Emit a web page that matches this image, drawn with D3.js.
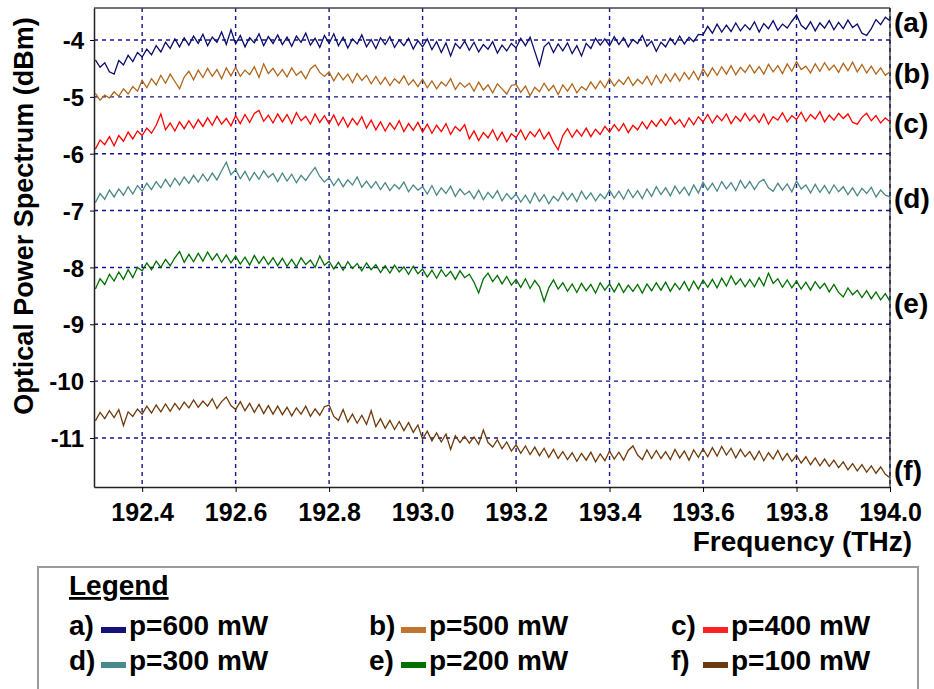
<!DOCTYPE html>
<html>
<head>
<meta charset="utf-8">
<script src="https://cdn.jsdelivr.net/npm/d3@7"></script>
<style>
  body { margin: 0; background: #fff; }
  svg { display: block; font-family: Arial, "Liberation Sans", Helvetica, sans-serif; font-weight: bold; }
</style>
</head>
<body>
<svg id="chart" width="934" height="689"></svg>
<script>
'use strict';

// sample grid of the spectrum (THz), 0.01 THz step
var freqs = d3.range(171).map(function (i) { return 192.30 + i * 0.01; });

var seriesA = [
  -4.35,-4.48,-4.40,-4.56,-4.60,-4.36,-4.44,-4.27,-4.38,-4.22,
  -4.30,-4.16,-4.26,-4.10,-4.21,-4.04,-4.15,-3.98,-4.12,-3.96,
  -4.09,-3.93,-4.06,-3.90,-4.10,-3.95,-4.04,-3.86,-4.08,-3.82,
  -4.07,-3.92,-4.12,-3.96,-4.05,-3.89,-4.10,-3.94,-4.06,-3.91,
  -4.08,-3.95,-4.11,-3.93,-4.04,-3.88,-4.09,-3.97,-4.13,-3.92,
  -4.06,-3.89,-4.10,-3.95,-4.14,-3.98,-4.07,-3.91,-4.12,-3.99,
  -4.15,-3.96,-4.08,-3.94,-4.13,-4.00,-4.10,-3.97,-4.16,-4.01,
  -4.12,-3.98,-4.17,-4.03,-4.22,-4.05,-4.28,-4.06,-4.15,-4.02,
  -4.18,-4.04,-4.21,-4.08,-4.16,-4.03,-4.23,-4.09,-4.19,-4.06,
  -4.14,-3.97,-4.10,-3.95,-4.20,-4.45,-4.12,-4.04,-4.22,-4.07,
  -4.19,-4.05,-4.24,-4.10,-4.28,-4.06,-4.15,-3.97,-4.09,-3.98,
  -4.10,-3.94,-4.08,-3.96,-4.12,-3.99,-4.06,-3.92,-4.11,-4.02,
  -4.20,-4.04,-4.12,-3.97,-4.08,-3.93,-4.07,-3.95,-4.03,-3.90,
  -3.91,-3.76,-3.88,-3.72,-3.86,-3.74,-3.85,-3.70,-3.84,-3.73,
  -3.82,-3.68,-3.86,-3.71,-3.80,-3.66,-3.83,-3.72,-3.79,-3.67,
  -3.56,-3.74,-3.81,-3.68,-3.84,-3.70,-3.79,-3.66,-3.82,-3.69,
  -3.80,-3.65,-3.78,-3.72,-3.88,-3.92,-3.80,-3.64,-3.73,-3.60,
  -3.66
];

var seriesB = [
  -4.94,-5.06,-4.97,-5.02,-4.91,-4.99,-4.86,-4.95,-4.82,-4.90,
  -4.71,-4.84,-4.68,-4.79,-4.62,-4.76,-4.60,-4.73,-4.86,-4.65,
  -4.55,-4.70,-4.53,-4.66,-4.50,-4.64,-4.52,-4.68,-4.49,-4.63,
  -4.48,-4.64,-4.53,-4.61,-4.47,-4.66,-4.42,-4.59,-4.50,-4.63,
  -4.52,-4.65,-4.49,-4.62,-4.55,-4.68,-4.51,-4.44,-4.57,-4.64,
  -4.56,-4.72,-4.58,-4.70,-4.60,-4.75,-4.59,-4.71,-4.62,-4.77,
  -4.64,-4.78,-4.66,-4.80,-4.68,-4.76,-4.63,-4.79,-4.70,-4.82,
  -4.69,-4.84,-4.72,-4.86,-4.74,-4.81,-4.68,-4.87,-4.75,-4.83,
  -4.76,-4.90,-4.74,-4.88,-4.79,-4.93,-4.77,-4.86,-4.95,-4.80,
  -4.78,-4.92,-4.81,-4.98,-4.83,-4.91,-4.76,-4.89,-4.80,-4.96,
  -4.79,-4.90,-4.77,-4.93,-4.82,-4.88,-4.74,-4.86,-4.72,-4.84,
  -4.68,-4.81,-4.70,-4.78,-4.65,-4.80,-4.69,-4.77,-4.64,-4.79,
  -4.62,-4.76,-4.60,-4.73,-4.59,-4.72,-4.57,-4.69,-4.55,-4.70,
  -4.51,-4.64,-4.49,-4.62,-4.47,-4.60,-4.45,-4.61,-4.48,-4.57,
  -4.44,-4.58,-4.47,-4.60,-4.43,-4.56,-4.45,-4.59,-4.42,-4.55,
  -4.38,-4.52,-4.46,-4.58,-4.42,-4.55,-4.40,-4.53,-4.44,-4.57,
  -4.41,-4.54,-4.39,-4.56,-4.43,-4.58,-4.46,-4.60,-4.49,-4.62,
  -4.56
];

var seriesC = [
  -5.92,-5.76,-5.84,-5.70,-5.86,-5.68,-5.78,-5.62,-5.74,-5.60,
  -5.68,-5.55,-5.64,-5.50,-5.30,-5.58,-5.46,-5.60,-5.44,-5.56,
  -5.42,-5.55,-5.40,-5.52,-5.37,-5.50,-5.34,-5.48,-5.38,-5.51,
  -5.33,-5.47,-5.31,-5.45,-5.29,-5.24,-5.43,-5.32,-5.46,-5.30,
  -5.44,-5.31,-5.47,-5.28,-5.42,-5.34,-5.48,-5.30,-5.45,-5.33,
  -5.47,-5.32,-5.50,-5.36,-5.53,-5.38,-5.49,-5.35,-5.55,-5.41,
  -5.58,-5.44,-5.60,-5.46,-5.57,-5.42,-5.61,-5.47,-5.59,-5.45,
  -5.62,-5.48,-5.64,-5.50,-5.61,-5.47,-5.66,-5.52,-5.60,-5.49,
  -5.74,-5.60,-5.77,-5.63,-5.72,-5.58,-5.76,-5.62,-5.79,-5.65,
  -5.72,-5.58,-5.75,-5.61,-5.70,-5.57,-5.74,-5.62,-5.80,-5.93,
  -5.68,-5.56,-5.71,-5.58,-5.69,-5.55,-5.70,-5.57,-5.66,-5.52,
  -5.62,-5.49,-5.60,-5.47,-5.63,-5.50,-5.58,-5.44,-5.56,-5.42,
  -5.52,-5.39,-5.50,-5.36,-5.48,-5.40,-5.53,-5.37,-5.49,-5.35,
  -5.44,-5.31,-5.46,-5.33,-5.42,-5.30,-5.47,-5.34,-5.43,-5.29,
  -5.42,-5.32,-5.45,-5.30,-5.48,-5.35,-5.41,-5.28,-5.44,-5.33,
  -5.40,-5.27,-5.43,-5.31,-5.39,-5.26,-5.44,-5.32,-5.41,-5.29,
  -5.38,-5.30,-5.45,-5.48,-5.36,-5.29,-5.42,-5.33,-5.46,-5.37,
  -5.44
];

var seriesD = [
  -6.86,-6.70,-6.80,-6.64,-6.76,-6.62,-6.73,-6.58,-6.71,-6.56,
  -6.66,-6.52,-6.63,-6.49,-6.60,-6.45,-6.58,-6.43,-6.55,-6.41,
  -6.52,-6.38,-6.50,-6.36,-6.48,-6.34,-6.46,-6.30,-6.15,-6.37,
  -6.28,-6.44,-6.31,-6.47,-6.33,-6.45,-6.30,-6.42,-6.35,-6.49,
  -6.34,-6.48,-6.36,-6.51,-6.38,-6.47,-6.35,-6.24,-6.40,-6.50,
  -6.42,-6.56,-6.44,-6.58,-6.46,-6.55,-6.41,-6.59,-6.48,-6.60,
  -6.49,-6.63,-6.51,-6.65,-6.54,-6.62,-6.50,-6.67,-6.55,-6.64,
  -6.58,-6.71,-6.56,-6.73,-6.60,-6.70,-6.57,-6.75,-6.62,-6.72,
  -6.66,-6.79,-6.64,-6.81,-6.68,-6.78,-6.65,-6.83,-6.70,-6.80,
  -6.71,-6.85,-6.73,-6.87,-6.69,-6.84,-6.72,-6.88,-6.75,-6.83,
  -6.68,-6.81,-6.70,-6.84,-6.66,-6.80,-6.69,-6.83,-6.71,-6.79,
  -6.64,-6.78,-6.66,-6.80,-6.63,-6.77,-6.65,-6.79,-6.62,-6.75,
  -6.58,-6.72,-6.60,-6.74,-6.57,-6.70,-6.59,-6.73,-6.55,-6.69,
  -6.50,-6.64,-6.52,-6.66,-6.49,-6.62,-6.51,-6.65,-6.47,-6.61,
  -6.49,-6.63,-6.50,-6.45,-6.60,-6.66,-6.52,-6.64,-6.53,-6.67,
  -6.48,-6.62,-6.55,-6.69,-6.54,-6.68,-6.56,-6.70,-6.55,-6.67,
  -6.58,-6.72,-6.60,-6.74,-6.61,-6.70,-6.59,-6.76,-6.64,-6.73,
  -6.76
];

var seriesE = [
  -8.38,-8.20,-8.30,-8.12,-8.24,-8.08,-8.21,-8.04,-8.18,-8.00,
  -8.06,-7.92,-8.04,-7.89,-8.00,-7.86,-7.97,-7.83,-7.72,-7.91,
  -7.77,-7.90,-7.75,-7.89,-7.73,-7.87,-7.76,-7.91,-7.78,-7.92,
  -7.80,-7.94,-7.82,-7.96,-7.79,-7.93,-7.81,-7.95,-7.83,-7.97,
  -7.84,-7.98,-7.86,-7.99,-7.83,-7.95,-7.87,-8.00,-7.80,-7.96,
  -7.89,-8.03,-7.91,-8.05,-7.90,-8.02,-7.93,-8.06,-7.92,-8.04,
  -7.95,-8.09,-7.97,-8.10,-7.96,-8.08,-7.99,-8.12,-7.98,-8.11,
  -8.03,-8.17,-8.05,-8.19,-8.04,-8.16,-8.07,-8.21,-8.06,-8.18,
  -8.12,-8.26,-8.45,-8.20,-8.10,-8.25,-8.14,-8.29,-8.16,-8.31,
  -8.21,-8.35,-8.20,-8.37,-8.23,-8.34,-8.60,-8.36,-8.22,-8.38,
  -8.27,-8.42,-8.29,-8.44,-8.28,-8.41,-8.30,-8.45,-8.27,-8.40,
  -8.29,-8.43,-8.28,-8.44,-8.31,-8.42,-8.30,-8.45,-8.29,-8.41,
  -8.27,-8.40,-8.26,-8.42,-8.28,-8.39,-8.25,-8.41,-8.24,-8.38,
  -8.22,-8.35,-8.21,-8.36,-8.19,-8.33,-8.15,-8.30,-8.20,-8.34,
  -8.21,-8.34,-8.18,-8.32,-8.10,-8.28,-8.20,-8.35,-8.22,-8.36,
  -8.24,-8.38,-8.26,-8.40,-8.25,-8.37,-8.28,-8.43,-8.30,-8.44,
  -8.52,-8.36,-8.48,-8.40,-8.53,-8.41,-8.55,-8.43,-8.57,-8.46,
  -8.60
];

var seriesF = [
  -10.70,-10.55,-10.66,-10.52,-10.64,-10.50,-10.78,-10.54,-10.62,-10.49,
  -10.58,-10.44,-10.56,-10.42,-10.54,-10.40,-10.53,-10.39,-10.50,-10.37,
  -10.47,-10.33,-10.46,-10.35,-10.44,-10.31,-10.48,-10.36,-10.28,-10.43,
  -10.50,-10.36,-10.52,-10.39,-10.55,-10.41,-10.57,-10.43,-10.58,-10.44,
  -10.59,-10.46,-10.61,-10.47,-10.58,-10.44,-10.62,-10.49,-10.60,-10.45,
  -10.42,-10.62,-10.69,-10.50,-10.72,-10.58,-10.74,-10.60,-10.76,-10.52,
  -10.80,-10.66,-10.83,-10.69,-10.85,-10.71,-10.87,-10.73,-10.90,-10.77,
  -11.02,-10.88,-11.05,-10.91,-11.07,-10.93,-11.20,-10.96,-11.08,-10.97,
  -11.09,-10.98,-11.11,-10.86,-11.08,-11.16,-11.03,-11.19,-11.07,-11.23,
  -11.12,-11.27,-11.14,-11.29,-11.16,-11.31,-11.18,-11.34,-11.20,-11.36,
  -11.24,-11.38,-11.26,-11.41,-11.27,-11.39,-11.25,-11.42,-11.28,-11.40,
  -11.23,-11.37,-11.25,-11.39,-11.22,-11.14,-11.30,-11.38,-11.21,-11.36,
  -11.22,-11.36,-11.24,-11.38,-11.20,-11.35,-11.23,-11.39,-11.21,-11.34,
  -11.19,-11.33,-11.17,-11.32,-11.15,-11.30,-11.18,-11.35,-11.20,-11.33,
  -11.24,-11.38,-11.23,-11.40,-11.26,-11.37,-11.22,-11.39,-11.27,-11.41,
  -11.30,-11.44,-11.33,-11.47,-11.35,-11.49,-11.37,-11.50,-11.39,-11.52,
  -11.42,-11.56,-11.45,-11.58,-11.47,-11.60,-11.49,-11.62,-11.51,-11.64,
  -11.70
];

var seriesKeys = ['a', 'b', 'c', 'd', 'e', 'f'];
var powerLabels = ['p=600 mW', 'p=500 mW', 'p=400 mW', 'p=300 mW', 'p=200 mW', 'p=100 mW'];
var xTicks = [192.4, 192.6, 192.8, 193.0, 193.2, 193.4, 193.6, 193.8, 194.0];
var yTicks = [-4, -5, -6, -7, -8, -9, -10, -11];

var allSeries = [seriesA, seriesB, seriesC, seriesD, seriesE, seriesF];
var lineColors = ['#0b0b6b', '#b0661c', '#ff0000', '#4a8886', '#006e00', '#6e3a0c'];
var swatchColors = ['#13137a', '#c07630', '#ff2222', '#4a8a8a', '#007000', '#6b3a10'];

var svg = d3.select('#chart');
var plot = {left: 94, right: 890, top: 8, bottom: 487};

var x = d3.scaleLinear().domain([192.297, 194.0]).range([plot.left, plot.right]);
var y = d3.scaleLinear().domain([-11.862, -3.437]).range([plot.bottom, plot.top]);

// grid
var gridColor = '#14148e';
svg.append('g').selectAll('line').data(yTicks).enter().append('line')
    .attr('x1', plot.left).attr('x2', plot.right)
    .attr('y1', function (d) { return y(d); }).attr('y2', function (d) { return y(d); })
    .attr('stroke', gridColor).attr('stroke-width', 1.4).attr('stroke-dasharray', '4,4');
svg.append('g').selectAll('line').data(xTicks).enter().append('line')
    .attr('y1', plot.top).attr('y2', plot.bottom)
    .attr('x1', function (d) { return x(d); }).attr('x2', function (d) { return x(d); })
    .attr('stroke', gridColor).attr('stroke-width', 1.4).attr('stroke-dasharray', '4,4');

// frame top / right
svg.append('line').attr('x1', plot.left).attr('x2', plot.right).attr('y1', plot.top).attr('y2', plot.top)
    .attr('stroke', '#444').attr('stroke-width', 1.5);
svg.append('line').attr('x1', plot.right).attr('x2', plot.right).attr('y1', plot.top).attr('y2', plot.bottom)
    .attr('stroke', '#222').attr('stroke-width', 1.2);

// series
var line = d3.line()
    .x(function (d, i) { return x(freqs[i]); })
    .y(function (d) { return y(d); });

svg.append('g').selectAll('path').data(allSeries).enter().append('path')
    .attr('d', line)
    .attr('fill', 'none')
    .attr('stroke', function (d, i) { return lineColors[i]; })
    .attr('stroke-width', 1.3)
    .attr('stroke-linejoin', 'miter');

// axes
var xAxis = d3.axisBottom(x).tickValues(xTicks).tickFormat(d3.format('.1f')).tickSizeInner(5).tickSizeOuter(0);
var yAxis = d3.axisLeft(y).tickValues(yTicks).tickFormat(function (d) { return String(d); }).tickSizeInner(4).tickSizeOuter(0);

var gx = svg.append('g').attr('transform', 'translate(0,' + plot.bottom + ')').call(xAxis);
gx.select('.domain').attr('stroke', '#222').attr('stroke-width', 1.5);
gx.selectAll('text').attr('font-size', 25).attr('font-weight', 'bold').attr('fill', '#000')
    .attr('font-family', 'Arial, "Liberation Sans", sans-serif').attr('dy', '1.02em');

var gy = svg.append('g').attr('transform', 'translate(' + plot.left + ',0)').call(yAxis);
gy.select('.domain').attr('stroke', '#222').attr('stroke-width', 1.5);
gy.selectAll('text').attr('font-size', 24).attr('font-weight', 'bold').attr('fill', '#000')
    .attr('font-family', 'Arial, "Liberation Sans", sans-serif').attr('x', -10).attr('dy', '0.36em');

// axis titles
svg.append('text')
    .attr('transform', 'translate(33,216) rotate(-90)')
    .attr('text-anchor', 'middle')
    .attr('font-size', 27)
    .text('Optical Power Spectrum (dBm)');

svg.append('text')
    .attr('x', 912).attr('y', 551)
    .attr('text-anchor', 'end')
    .attr('font-size', 28)
    .text('Frequency (THz)');

// series tags at right end
svg.append('g').selectAll('text').data(allSeries).enter().append('text')
    .attr('x', 894)
    .attr('y', function (d) { return Math.min(y(d[d.length - 1]) + 11, 480); })
    .attr('font-size', 28)
    .text(function (d, i) { return '(' + seriesKeys[i] + ')'; });

// legend box
var legend = svg.append('g');
legend.append('rect')
    .attr('x', 38).attr('y', 567).attr('width', 880).attr('height', 140)
    .attr('fill', '#fff').attr('stroke', '#9a9a9a').attr('stroke-width', 2);

legend.append('text')
    .attr('x', 69).attr('y', 595)
    .attr('font-size', 28)
    .attr('text-decoration', 'underline')
    .text('Legend');

var colX = [69, 369, 671];
var rowY = [635, 670];

var items = legend.selectAll('g.item').data(powerLabels).enter().append('g')
    .attr('class', 'item')
    .attr('transform', function (d, i) {
        return 'translate(' + colX[i % 3] + ',' + rowY[Math.floor(i / 3)] + ')';
    });

items.append('text')
    .attr('x', 0).attr('y', 0)
    .attr('font-size', 28)
    .text(function (d, i) { return seriesKeys[i] + ')'; });

items.append('rect')
    .attr('x', 32).attr('y', -8).attr('width', 25).attr('height', 6)
    .attr('fill', function (d, i) { return swatchColors[i]; });

items.append('text')
    .attr('x', 60).attr('y', 0)
    .attr('font-size', 28)
    .text(function (d) { return d; });
</script>
</body>
</html>
